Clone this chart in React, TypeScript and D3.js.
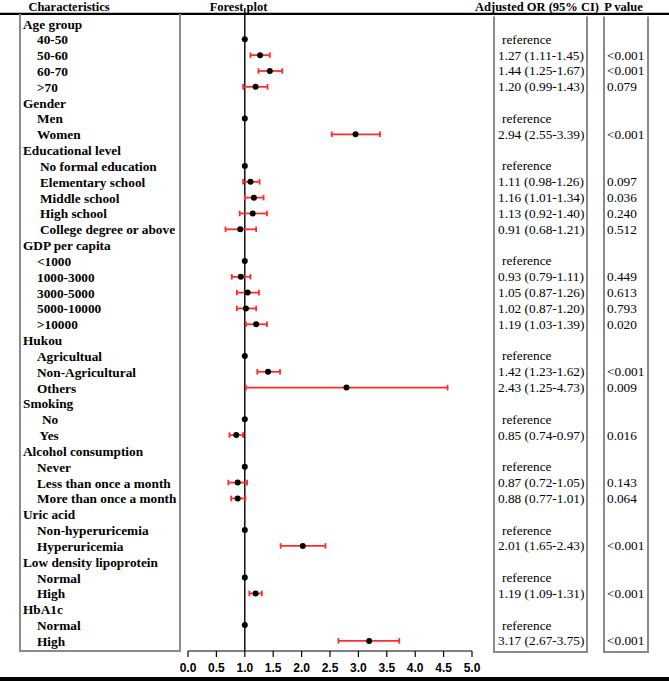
import React from "react";
import * as d3 from "d3";

const rowLabels = [
  "Age group", "40-50", "50-60", "60-70", ">70",
  "Gender", "Men", "Women",
  "Educational level", "No formal education", "Elementary school", "Middle school", "High school", "College degree or above",
  "GDP per capita", "<1000", "1000-3000", "3000-5000", "5000-10000", ">10000",
  "Hukou", "Agricultual", "Non-Agricultural", "Others",
  "Smoking", "No", "Yes",
  "Alcohol consumption", "Never", "Less than once a month", "More than once a month",
  "Uric acid", "Non-hyperuricemia", "Hyperuricemia",
  "Low density lipoprotein", "Normal", "High",
  "HbA1c", "Normal", "High",
];

const rowIsGroup = [
  true, false, false, false, false,
  true, false, false,
  true, false, false, false, false, false,
  true, false, false, false, false, false,
  true, false, false, false,
  true, false, false,
  true, false, false, false,
  true, false, false,
  true, false, false,
  true, false, false,
];

// plotted point estimates and CI bounds (as drawn)
const orEst: (number | null)[] = [
  null, 1, 1.27, 1.44, 1.19,
  null, 1, 2.95,
  null, 1, 1.10, 1.16, 1.14, 0.92,
  null, 1, 0.93, 1.05, 1.02, 1.20,
  null, 1, 1.41, 2.79,
  null, 1, 0.85,
  null, 1, 0.875, 0.875,
  null, 1, 2.02,
  null, 1, 1.19,
  null, 1, 3.19,
];
const orLow: (number | null)[] = [
  null, null, 1.10, 1.24, 0.97,
  null, null, 2.53,
  null, null, 0.97, 1.00, 0.91, 0.66,
  null, null, 0.77, 0.86, 0.86, 1.02,
  null, null, 1.22, 1.02,
  null, null, 0.73,
  null, null, 0.71, 0.76,
  null, null, 1.63,
  null, null, 1.08,
  null, null, 2.65,
];
const orHigh: (number | null)[] = [
  null, null, 1.44, 1.66, 1.40,
  null, null, 3.38,
  null, null, 1.26, 1.33, 1.39, 1.20,
  null, null, 1.10, 1.25, 1.20, 1.39,
  null, null, 1.62, 4.57,
  null, null, 0.97,
  null, null, 1.04, 1.01,
  null, null, 2.42,
  null, null, 1.30,
  null, null, 3.72,
];

const orText = [
  "", "reference", "1.27 (1.11-1.45)", "1.44 (1.25-1.67)", "1.20 (0.99-1.43)",
  "", "reference", "2.94 (2.55-3.39)",
  "", "reference", "1.11 (0.98-1.26)", "1.16 (1.01-1.34)", "1.13 (0.92-1.40)", "0.91 (0.68-1.21)",
  "", "reference", "0.93 (0.79-1.11)", "1.05 (0.87-1.26)", "1.02 (0.87-1.20)", "1.19 (1.03-1.39)",
  "", "reference", "1.42 (1.23-1.62)", "2.43 (1.25-4.73)",
  "", "reference", "0.85 (0.74-0.97)",
  "", "reference", "0.87 (0.72-1.05)", "0.88 (0.77-1.01)",
  "", "reference", "2.01 (1.65-2.43)",
  "", "reference", "1.19 (1.09-1.31)",
  "", "reference", "3.17 (2.67-3.75)",
];

const pText = [
  "", "", "<0.001", "<0.001", "0.079",
  "", "", "<0.001",
  "", "", "0.097", "0.036", "0.240", "0.512",
  "", "", "0.449", "0.613", "0.793", "0.020",
  "", "", "<0.001", "0.009",
  "", "", "0.016",
  "", "", "0.143", "0.064",
  "", "", "<0.001",
  "", "", "<0.001",
  "", "", "<0.001",
];

const xTicks = [0, 0.5, 1, 1.5, 2, 2.5, 3, 3.5, 4, 4.5, 5];

const headers = ["Characteristics", "Forest plot", "Adjusted OR (95% CI)", "P value"];

const W = 669;
const H = 681;
const SERIF = "'Liberation Serif', 'Times New Roman', serif";
const SANS = "'Liberation Sans', Arial, sans-serif";
const RED = "#ff2b2b";
const BOX = "#8a8a8a";

export default function App() {
  const x = d3.scaleLinear().domain([0, 5]).range([188, 472]);
  const y = d3.scaleLinear().domain([0, rowLabels.length - 1]).range([23.5, 640.9]);

  let currentGroup = "";
  const indents = rowLabels.map((lab, i) => {
    if (rowIsGroup[i]) {
      currentGroup = lab;
      return 23;
    }
    if (currentGroup === "Educational level") return 40;
    if (currentGroup === "Smoking") return lab === "No" ? 42 : 39.5;
    return 37;
  });

  const axisY = 651;
  const capH = 2.8;

  return (
    <svg
      width={W}
      height={H}
      style={{ position: "absolute", left: 0, top: 0, background: "#fff" }}
    >
      <rect x={0} y={0} width={W} height={H} fill="#fff" />

      {/* header texts */}
      <g fontFamily={SERIF} fontWeight="bold" fontSize={12.5} fill="#000">
        <text x={69} y={11} textAnchor="middle">{headers[0]}</text>
        <text x={238.5} y={11} textAnchor="middle">{headers[1]}</text>
        <text x={537} y={11} textAnchor="middle">{headers[2]}</text>
        <text x={623.5} y={11} textAnchor="middle">{headers[3]}</text>
      </g>

      {/* header rule */}
      <line x1={0} x2={W} y1={13.9} y2={13.9} stroke="#000" strokeWidth={2.4} />

      {/* left box */}
      <path d={`M20,14 L20,651 L180,651 L180,14`} fill="none" stroke={BOX} strokeWidth={2} />
      {/* OR box */}
      <path d={`M494,16.5 L494,652 L587,652 L587,16.5`} fill="none" stroke={BOX} strokeWidth={2} />
      {/* P box */}
      <path d={`M604,16.5 L604,652 L648,652 L648,16.5`} fill="none" stroke={BOX} strokeWidth={2} />

      {/* row labels */}
      <g fontFamily={SERIF} fontWeight="bold" fontSize={13.3} fill="#000">
        {rowLabels.map((lab, i) => (
          <text key={i} x={indents[i]} y={y(i) + 5}>
            {lab}
          </text>
        ))}
      </g>

      {/* reference line */}
      <line x1={x(1)} x2={x(1)} y1={8} y2={axisY} stroke="#000" strokeWidth={1.4} />

      {/* CIs */}
      <g stroke={RED} strokeWidth={1.8} fill="none">
        {orEst.map((v, i) => {
          const lo = orLow[i];
          const hi = orHigh[i];
          if (v === null || lo === null || hi === null) return null;
          const yy = y(i);
          return (
            <g key={i}>
              <line x1={x(lo)} x2={x(hi)} y1={yy} y2={yy} />
              <line x1={x(lo)} x2={x(lo)} y1={yy - capH} y2={yy + capH} />
              <line x1={x(hi)} x2={x(hi)} y1={yy - capH} y2={yy + capH} />
            </g>
          );
        })}
      </g>

      {/* points */}
      <g fill="#000">
        {orEst.map((v, i) =>
          v === null ? null : <circle key={i} cx={x(v)} cy={y(i)} r={3} />
        )}
      </g>

      {/* x axis */}
      <g>
        <line x1={x(0)} x2={x(5)} y1={axisY} y2={axisY} stroke="#000" strokeWidth={1.2} />
        {xTicks.map((t) => (
          <line key={t} x1={x(t)} x2={x(t)} y1={axisY} y2={axisY + 6} stroke="#000" strokeWidth={1.2} />
        ))}
        <g fontFamily={SANS} fontWeight="bold" fontSize={12} fill="#000">
          {xTicks.map((t) => (
            <text key={t} x={x(t)} y={672} textAnchor="middle">
              {d3.format(".1f")(t)}
            </text>
          ))}
        </g>
      </g>

      {/* OR text */}
      <g fontFamily={SERIF} fontSize={13.3} fill="#000">
        {orText.map((s, i) =>
          s ? (
            <text key={i} x={s === "reference" ? 502 : 498} y={y(i) + 4.5}>
              {s}
            </text>
          ) : null
        )}
      </g>

      {/* P text */}
      <g fontFamily={SERIF} fontSize={13.3} fill="#000">
        {pText.map((s, i) =>
          s ? (
            <text key={i} x={607} y={y(i) + 4.5}>
              {s}
            </text>
          ) : null
        )}
      </g>

      {/* bottom rule */}
      <rect x={0} y={677} width={W} height={4} fill="#000" />
    </svg>
  );
}
